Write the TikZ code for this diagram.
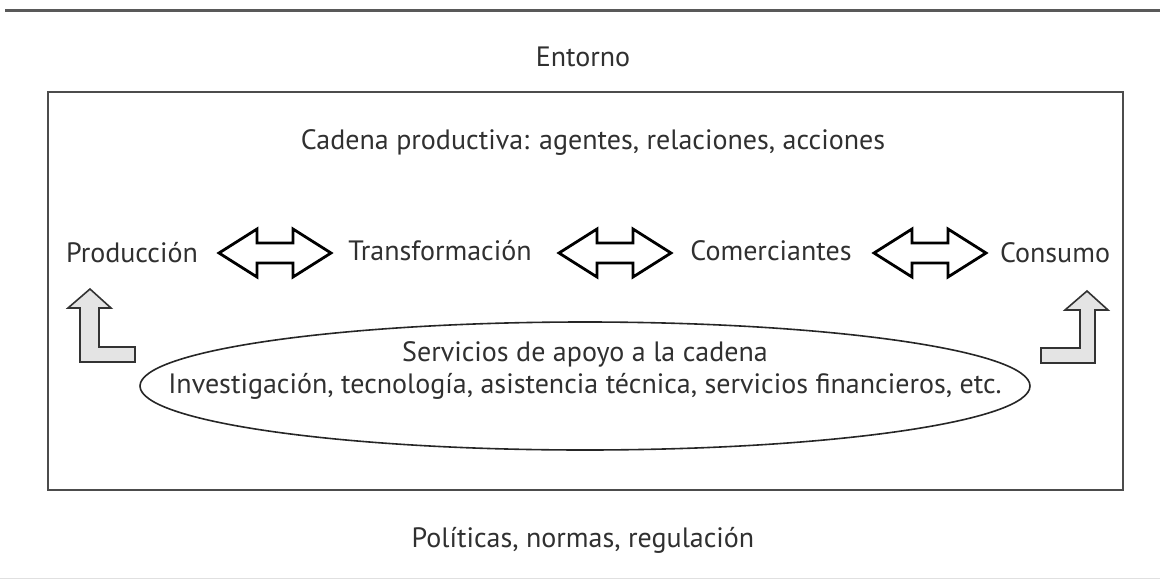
\documentclass[tikz,border=0pt]{standalone}
\usepackage{fontspec}
\setmainfont{PT Sans}
\usetikzlibrary{shapes.geometric}
\definecolor{txt}{HTML}{303030}
\definecolor{bentfill}{HTML}{E4E4E4}
\tikzset{
  lbl/.style={font=\fontsize{28}{32}\selectfont, text=txt, inner sep=0pt},
  dblarrow/.style={draw=black, line width=2.8pt, fill=white, line join=miter},
  bent/.style={draw=black!80, line width=1.6pt, fill=bentfill, line join=miter},
}
\begin{document}
\begin{tikzpicture}[x=1pt,y=-1pt]
\useasboundingbox (0,0) rectangle (1160,581);
% frame lines
\draw[line width=3pt, draw=black!65] (5,10) -- (1160,10);
\draw[line width=1pt, draw=black!12] (0,578) -- (1160,578);
\draw[line width=2pt, draw=black!70] (48,92) rectangle (1123,490);
\node[lbl] (entorno) at (583,57) {Entorno};
\node[lbl] (cadena) at (593,142) {Cadena productiva: agentes, relaciones, acciones};
\node[lbl] (prod) at (132,253) {Producción};
\node[lbl] (trans) at (440,251) {Transformación};
\node[lbl] (comer) at (771,251) {Comerciantes};
\node[lbl] (cons) at (1055,253) {Consumo};
\node[lbl] (pol) at (583,540) {Políticas, normas, regulación};
% ellipse
\node[ellipse, draw=black!85, line width=1.6pt, minimum width=890pt, minimum height=128pt, inner sep=0pt] (serv) at (585,386) {};
\node[lbl] (serv1) at (585,354) {Servicios de apoyo a la cadena};
\node[lbl] (serv2) at (585,386) {Investigación, tecnología, asistencia técnica, servicios financieros, etc.};
% double arrows
\foreach \c in {275,615,930}{
  \draw[dblarrow] (\c-56,253) -- (\c-18,229) -- (\c-18,243) -- (\c+18,243) -- (\c+18,229)
    -- (\c+56,253) -- (\c+18,277) -- (\c+18,263) -- (\c-18,263) -- (\c-18,277) -- cycle;
}
% bent arrows
\draw[bent] (90,289) -- (111,308) -- (99,308) -- (99,347) -- (135,347) -- (135,362)
  -- (80,362) -- (80,308) -- (68,308) -- cycle;
\draw[bent] (1087,291) -- (1108,310) -- (1095,310) -- (1095,363) -- (1041,363) -- (1041,348)
  -- (1080,348) -- (1080,310) -- (1065,310) -- cycle;
\end{tikzpicture}
\end{document}
